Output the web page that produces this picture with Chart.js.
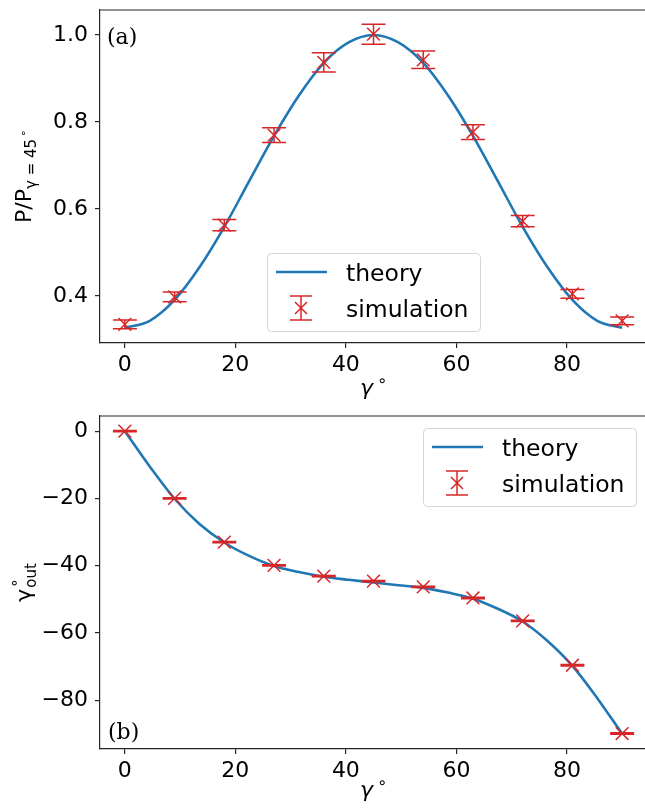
<!DOCTYPE html>
<html>
<head>
<meta charset="utf-8">
<script src="https://cdn.jsdelivr.net/npm/chart.js@4.4.1/dist/chart.umd.min.js"></script>
<style>
  html, body { margin: 0; padding: 0; background: #fff; overflow: hidden; width: 645px; height: 809px; }
  canvas { position: absolute; left: 0; display: block; }
  #top { top: 0; }
  #bottom { top: 400px; }
</style>
</head>
<body>
<canvas id="top" width="650" height="400"></canvas>
<canvas id="bottom" width="650" height="409"></canvas>
<script>
// simulation points (gamma in degrees)
const simGamma = [0, 9, 18, 27, 36, 45, 54, 63, 72, 81, 90];
const powerSim = [0.335, 0.398, 0.563, 0.770, 0.937, 1.002, 0.943, 0.777, 0.572, 0.405, 0.343];
const powerErr = [0.010, 0.011, 0.013, 0.017, 0.022, 0.023, 0.020, 0.017, 0.013, 0.010, 0.009];
const outSim = [0, -20.0, -33.0, -39.9, -43.1, -44.6, -46.3, -49.6, -56.4, -69.6, -89.9];
const outErr = [0.2, 0.2, 0.2, 0.2, 0.2, 0.2, 0.2, 0.2, 0.2, 0.2, 0.2];

// theory curves
const theoryGamma = [0, 4.5, 9, 13.5, 18, 22.5, 27, 31.5, 36, 40.5, 45,
  49.5, 54, 58.5, 63, 67.5, 72, 76.5, 81, 85.5, 90];
const powerTheory = [0.327, 0.343, 0.391, 0.466, 0.559, 0.664, 0.768, 0.861, 0.936, 0.983, 1.000,
  0.983, 0.936, 0.861, 0.768, 0.664, 0.559, 0.466, 0.391, 0.343, 0.327];
const outTheory = [0, -10.5, -20.1, -27.6, -33.1, -37.1, -40.1, -41.9, -43.3, -44.2, -45.0,
  -45.8, -46.6, -48.0, -49.8, -52.8, -56.6, -62.4, -69.8, -79.4, -90];

const xTicks = [0, 20, 40, 60, 80];
const powerTicks = [0.4, 0.6, 0.8, 1.0];
const outTicks = [0, -20, -40, -60, -80];

const BLUE = '#1f77b4';
const RED = '#d62728';
const AX = '#262626';
const FONT = 'DejaVu Sans';

function drawXTitle(ctx, cx, base) {
  ctx.save();
  ctx.fillStyle = '#000';
  ctx.textBaseline = 'alphabetic';
  ctx.font = 'italic 22px ' + FONT;
  const w1 = ctx.measureText('\u03b3').width;
  ctx.font = '16px ' + FONT;
  const w2 = ctx.measureText('\u2218').width;
  const x0 = cx - (w1 + 4 + w2) / 2;
  ctx.font = 'italic 22px ' + FONT;
  ctx.fillText('\u03b3', x0, base);
  ctx.font = '16px ' + FONT;
  ctx.fillText('\u2218', x0 + w1 + 4, base - 9);
  ctx.restore();
}

function drawPowerTitle(ctx, bx, cy) {
  ctx.save();
  ctx.translate(bx, cy);
  ctx.rotate(-Math.PI / 2);
  ctx.fillStyle = '#000';
  ctx.textBaseline = 'alphabetic';
  ctx.font = '22px ' + FONT;
  const main = 'P/P';
  const wm = ctx.measureText(main).width;
  ctx.font = '15px ' + FONT;
  const sub = '\u03b3 = 45';
  const ws = ctx.measureText(sub).width;
  ctx.font = '11px ' + FONT;
  const wd = ctx.measureText('\u2218').width;
  const x0 = -(wm + ws + wd + 2) / 2;
  ctx.font = '22px ' + FONT;
  ctx.fillText(main, x0, 0);
  ctx.font = '15px ' + FONT;
  ctx.fillText(sub, x0 + wm, 5);
  ctx.font = '11px ' + FONT;
  ctx.fillText('\u2218', x0 + wm + ws + 2, -4);
  ctx.restore();
}

function drawOutTitle(ctx, bx, cy) {
  ctx.save();
  ctx.translate(bx, cy);
  ctx.rotate(-Math.PI / 2);
  ctx.fillStyle = '#000';
  ctx.textBaseline = 'alphabetic';
  ctx.font = '22px ' + FONT;
  const wg = ctx.measureText('\u03b3').width;
  ctx.font = '15px ' + FONT;
  const wo = ctx.measureText('out').width;
  const x0 = -(wg + wo + 1) / 2;
  ctx.font = '22px ' + FONT;
  ctx.fillText('\u03b3', x0, 0);
  ctx.font = '15px ' + FONT;
  ctx.fillText('out', x0 + wg + 1, 5);
  ctx.fillText('\u2218', x0 + wg + 1, -12);
  ctx.restore();
}

function drawLegend(ctx, bx, by) {
  ctx.save();
  ctx.beginPath();
  ctx.roundRect(bx + 0.5, by + 0.5, 213, 78, 4);
  ctx.fillStyle = 'rgba(255,255,255,0.8)';
  ctx.fill();
  ctx.strokeStyle = '#d5d5d5';
  ctx.lineWidth = 1;
  ctx.stroke();

  ctx.strokeStyle = BLUE;
  ctx.lineWidth = 2.5;
  ctx.beginPath();
  ctx.moveTo(bx + 9, by + 19);
  ctx.lineTo(bx + 60, by + 19);
  ctx.stroke();

  const gx = bx + 34, gy = by + 55;
  ctx.strokeStyle = RED;
  ctx.lineWidth = 1.5;
  ctx.beginPath();
  ctx.moveTo(gx, gy - 12); ctx.lineTo(gx, gy + 12);
  ctx.moveTo(gx - 11, gy - 12); ctx.lineTo(gx + 11, gy - 12);
  ctx.moveTo(gx - 11, gy + 12); ctx.lineTo(gx + 11, gy + 12);
  ctx.moveTo(gx - 6, gy - 6); ctx.lineTo(gx + 6, gy + 6);
  ctx.moveTo(gx - 6, gy + 6); ctx.lineTo(gx + 6, gy - 6);
  ctx.stroke();

  ctx.fillStyle = '#000';
  ctx.font = '23.5px ' + FONT;
  ctx.textBaseline = 'alphabetic';
  ctx.fillText('theory', bx + 79, by + 28);
  ctx.fillText('simulation', bx + 79, by + 64);
  ctx.restore();
}

const panelPlugin = {
  id: 'panel',
  afterDatasetsDraw(chart, args, opts) {
    const { ctx, scales: { x, y } } = chart;
    const ds = chart.data.datasets[0];
    ctx.save();
    ctx.strokeStyle = RED;
    ctx.lineWidth = 1.5;
    ds.gammas.forEach((g, i) => {
      const px = x.getPixelForValue(g);
      const y1 = y.getPixelForValue(ds.values[i] - ds.errors[i]);
      const y2 = y.getPixelForValue(ds.values[i] + ds.errors[i]);
      ctx.beginPath();
      ctx.moveTo(px, y1); ctx.lineTo(px, y2);
      ctx.moveTo(px - 12, y1); ctx.lineTo(px + 12, y1);
      ctx.moveTo(px - 12, y2); ctx.lineTo(px + 12, y2);
      ctx.stroke();
    });
    ctx.restore();
  },
  afterDraw(chart, args, opts) {
    const { ctx, chartArea: a } = chart;
    ctx.save();
    ctx.strokeStyle = AX;
    ctx.lineWidth = 1.2;
    ctx.beginPath();
    ctx.moveTo(a.left, a.top); ctx.lineTo(a.right, a.top); ctx.lineTo(a.right, a.bottom);
    ctx.stroke();
    ctx.fillStyle = '#000';
    ctx.font = '22px DejaVu Serif';
    ctx.textBaseline = 'alphabetic';
    ctx.fillText(opts.label, opts.labelX, opts.labelY);
    ctx.restore();
    drawLegend(ctx, opts.legendX, opts.legendY);
    drawXTitle(ctx, (a.left + a.right) / 2, opts.xTitleY);
    opts.yTitle(ctx, 31, (a.top + a.bottom) / 2);
  }
};

function makePanel(id, cfg) {
  const axisCommon = {
    type: 'linear',
    grid: { drawOnChartArea: false, drawTicks: true, tickLength: 5, color: AX, lineWidth: 1.2 },
    border: { display: true, color: AX, width: 1.2 },
  };
  return new Chart(document.getElementById(id), {
    type: 'line',
    data: {
      datasets: [
        {
          label: 'simulation',
          data: simGamma.map((g, i) => ({ x: g, y: cfg.sim[i] })),
          gammas: simGamma, values: cfg.sim, errors: cfg.err,
          showLine: false,
          pointStyle: 'crossRot', pointRadius: 9, pointHoverRadius: 9,
          pointBorderColor: RED, pointBackgroundColor: RED, pointBorderWidth: 1.5,
          borderColor: RED, order: 1,
        },
        {
          label: 'theory',
          data: theoryGamma.map((g, i) => ({ x: g, y: cfg.theory[i] })),
          borderColor: BLUE, borderWidth: 2.6, pointRadius: 0, fill: false,
          cubicInterpolationMode: 'monotone', order: 2,
        },
      ],
    },
    options: {
      responsive: false, animation: false, devicePixelRatio: 1, events: [],
      layout: { autoPadding: false, padding: { top: cfg.padTop, right: 3, left: 0, bottom: 0 } },
      plugins: {
        legend: { display: false }, tooltip: { enabled: false },
        panel: cfg.panel,
      },
      scales: {
        x: {
          ...axisCommon,
          min: -4.5, max: 94.5,
          afterBuildTicks: (s) => { s.ticks = xTicks.map((v) => ({ value: v })); },
          afterFit: (s) => { s.height = cfg.xAxisH; s.paddingLeft = 0; s.paddingRight = 0; },
          ticks: { font: { family: FONT, size: 22 }, color: '#000', padding: 4, maxRotation: 0, autoSkip: false,
            callback: (v) => String(v) },
        },
        y: {
          ...axisCommon,
          min: cfg.yMin, max: cfg.yMax,
          afterBuildTicks: (s) => { s.ticks = cfg.yTicks.map((v) => ({ value: v })); },
          afterFit: (s) => { s.width = 100; s.paddingTop = 0; s.paddingBottom = 0; },
          ticks: { font: { family: FONT, size: 22 }, color: '#000', padding: 7, autoSkip: false,
            callback: cfg.fmt },
        },
      },
    },
    plugins: [panelPlugin],
  });
}

makePanel('top', {
  sim: powerSim, err: powerErr, theory: powerTheory,
  yMin: 0.292, yMax: 1.0575, yTicks: powerTicks,
  fmt: (v) => v.toFixed(1),
  padTop: 10, xAxisH: 57,
  panel: { label: '(a)', labelX: 107, labelY: 44, legendX: 267, legendY: 253, xTitleY: 395, yTitle: drawPowerTitle },
});

makePanel('bottom', {
  sim: outSim, err: outErr, theory: outTheory,
  yMin: -94.5, yMax: 4.5, yTicks: outTicks,
  fmt: (v) => String(v).replace('-', '\u2212'),
  padTop: 16, xAxisH: 60,
  panel: { label: '(b)', labelX: 108, labelY: 339, legendX: 423, legendY: 28, xTitleY: 397, yTitle: drawOutTitle },
});
</script>
</body>
</html>
